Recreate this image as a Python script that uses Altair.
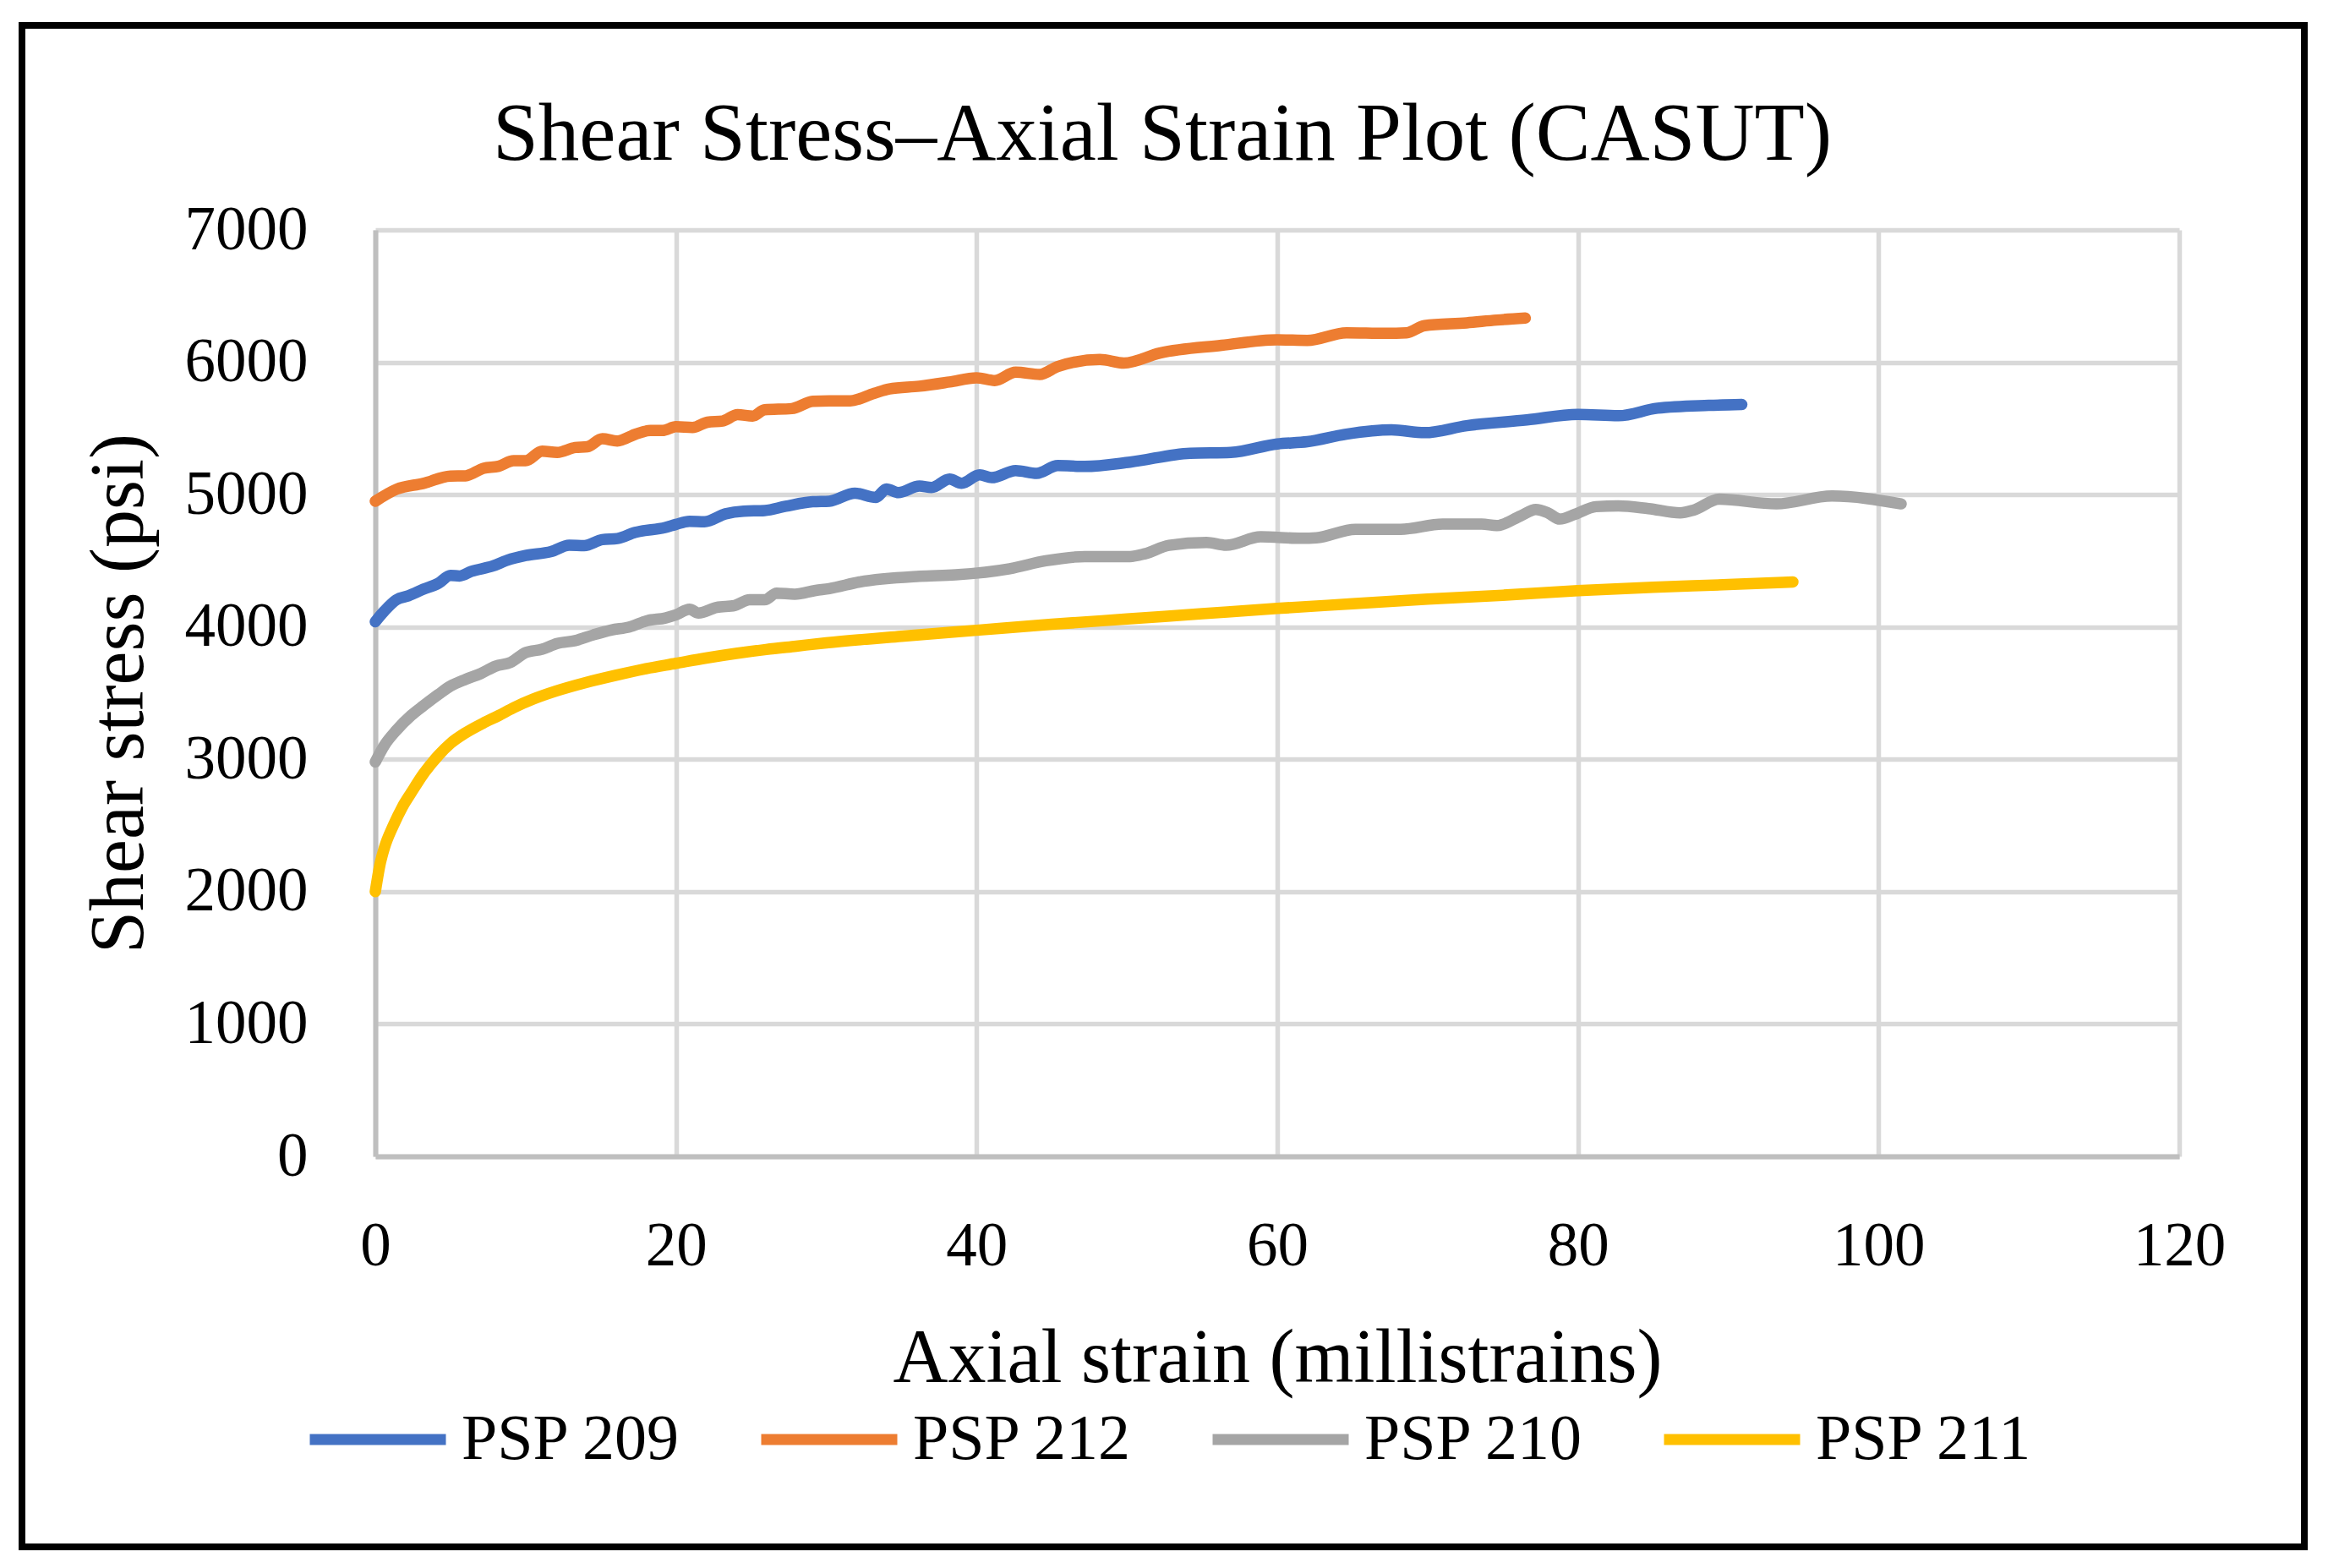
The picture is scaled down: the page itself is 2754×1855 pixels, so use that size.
import altair as alt
import pandas as pd

series_names = ["PSP 209", "PSP 212", "PSP 210", "PSP 211"]
series_colors = ["#4472C4", "#ED7D31", "#A5A5A5", "#FFC000"]

x_ticks = [0, 20, 40, 60, 80, 100, 120]
y_ticks = [0, 1000, 2000, 3000, 4000, 5000, 6000, 7000]

chart_title = ["Shear Stress\u2013Axial Strain Plot (CASUT)"]

psp209_x = [0, 0.6, 1.4, 2.2, 3.2, 4.2, 5.0, 5.6, 6.4, 7.8, 8.8, 10.0, 11.7, 12.9, 13.9,
            15.1, 16.1, 17.3, 19.3, 20.0, 20.9, 21.9, 23.3, 24.5, 25.9, 27.3, 29.1, 30.2,
            31.9, 33.3, 34.0, 34.8, 36.2, 37.0, 38.2, 39.0, 40.2, 41.0, 42.6, 44.0, 45.4,
            47.2, 50.2, 54.2, 56.9, 60.0, 62.0, 64.6, 67.6, 69.8, 72.6, 76.6, 80.0, 82.7,
            85.3, 88.7, 90.9]
psp209_y = [4040, 4120, 4205, 4235, 4285, 4330, 4390, 4385, 4420, 4460, 4505, 4540, 4570, 4618, 4615,
            4660, 4668, 4715, 4752, 4775, 4798, 4795, 4855, 4875, 4880, 4912, 4946, 4950,
            5011, 4979, 5043, 5015, 5064, 5053, 5117, 5085, 5149, 5128, 5181, 5160, 5219,
            5213, 5245, 5313, 5319, 5383, 5400, 5457, 5489, 5468, 5521, 5564, 5606, 5596,
            5653, 5674, 5681]

psp212_x = [0, 1.4, 3.2, 5.0, 6.0, 7.2, 8.2, 9.2, 10.0, 11.1, 12.1, 13.3, 14.1, 15.1, 16.1,
            17.3, 18.3, 19.1, 20.0, 21.1, 22.1, 23.1, 24.1, 25.1, 25.9, 27.7, 29.1, 30.2,
            31.6, 33.2, 34.2, 36.2, 38.2, 40.0, 41.2, 42.6, 44.2, 45.4, 48.2, 49.8, 52.2,
            56.3, 60.0, 62.0, 64.6, 67.2, 68.6, 69.8, 72.6, 74.6, 76.5]
psp212_y = [4950, 5040, 5085, 5140, 5142, 5199, 5214, 5256, 5256, 5328, 5319, 5356, 5362, 5422, 5405,
            5456, 5484, 5484, 5513, 5507, 5547, 5556, 5604, 5593, 5641, 5650, 5705, 5709,
            5709, 5766, 5798, 5819, 5851, 5883, 5862, 5925, 5908, 5968, 6021, 5994, 6070,
            6128, 6170, 6165, 6223, 6219, 6223, 6277, 6298, 6319, 6334]

psp210_x = [0, 0.6, 1.4, 2.4, 3.2, 4.2, 5.0, 6.0, 7.0, 8.0, 9.0, 10.0, 11.1, 12.1, 13.3,
            14.5, 15.7, 16.9, 18.1, 19.3, 20.0, 20.9, 21.5, 22.7, 23.9, 24.9, 25.9, 26.7,
            27.9, 29.3, 30.2, 32.2, 36.2, 38.6, 42.2, 44.6, 47.2, 50.2, 51.2, 52.8, 55.3,
            56.6, 58.9, 61.6, 62.6, 65.2, 68.2, 71.0, 73.6, 74.6, 76.2, 77.2, 78.0, 78.8,
            79.8, 81.2, 82.7, 84.7, 86.8, 87.7, 89.4, 93.2, 96.9, 101.5]
psp210_y = [2980, 3105, 3219, 3333, 3405, 3490, 3553, 3604, 3647, 3704, 3732, 3806, 3832, 3875, 3897,
            3940, 3977, 4000, 4048, 4068, 4091, 4134, 4105, 4148, 4162, 4205, 4205, 4256,
            4248, 4276, 4290, 4340, 4383, 4394, 4440, 4500, 4532, 4532, 4553, 4617, 4638,
            4617, 4681, 4670, 4674, 4738, 4738, 4777, 4777, 4766, 4840, 4887, 4862, 4815,
            4851, 4909, 4915, 4894, 4862, 4883, 4965, 4930, 4989, 4930]

psp211_x = [0, 0.3, 0.6, 1.2, 1.8, 2.4, 3.2, 4.2, 5.0, 6.0, 7.2, 8.2, 9.2, 10.5, 12.0,
            14.0, 16.0, 18.0, 20.0, 22.0, 24.0, 26.0, 28.0, 30.0, 35.0, 40.0, 45.0, 50.0,
            55.0, 60.0, 65.0, 70.0, 75.0, 80.0, 85.0, 90.0, 94.3]
psp211_y = [2000, 2200, 2330, 2500, 2640, 2750, 2890, 3030, 3120, 3200, 3275, 3330, 3390, 3455, 3515,
            3580, 3635, 3685, 3725, 3765, 3800, 3830, 3855, 3880, 3930, 3975, 4020, 4060,
            4100, 4140, 4175, 4210, 4240, 4275, 4300, 4320, 4340]

rows = []
for name, xs, ys in [("PSP 209", psp209_x, psp209_y), ("PSP 212", psp212_x, psp212_y),
                     ("PSP 210", psp210_x, psp210_y), ("PSP 211", psp211_x, psp211_y)]:
    for xv, yv in zip(xs, ys):
        rows.append({"series": name, "strain": xv, "stress": yv})
df = pd.DataFrame(rows)

FONT = "Liberation Serif"

lines = alt.Chart(df).mark_line(
    strokeWidth=13.5, strokeCap="round", strokeJoin="round", interpolate="monotone"
).encode(
    x=alt.X("strain:Q", scale=alt.Scale(domain=[0, 120], nice=False),
            axis=alt.Axis(values=x_ticks, title="Axial strain (millistrains)", labelFlush=False,
                          labelPadding=70, titlePadding=52, format="d")),
    y=alt.Y("stress:Q", scale=alt.Scale(domain=[0, 7000], nice=False),
            axis=alt.Axis(values=y_ticks, title="Shear stress (psi)", labelPadding=80,
                          titlePadding=57, format="d")),
    color=alt.Color("series:N", scale=alt.Scale(domain=series_names, range=series_colors),
                    legend=alt.Legend(title=None, orient="none", legendX=-84, legendY=1344,
                                      direction="horizontal", columns=4, symbolType="stroke",
                                      symbolSize=25921, symbolStrokeWidth=13,
                                      labelFont=FONT, labelFontSize=76, labelColor="black",
                                      labelLimit=1000, labelOffset=12, columnPadding=68,
                                      padding=0)),
)

frame = alt.Chart(pd.DataFrame({"k": [0]})).mark_rect(
    fillOpacity=0, stroke="black", strokeWidth=8
).encode(x=alt.value(-418), x2=alt.value(2282), y=alt.value(-242), y2=alt.value(1558))

title_mark = alt.Chart(pd.DataFrame({"t": chart_title})).mark_text(
    font=FONT, fontSize=97, color="black", align="center", baseline="alphabetic"
).encode(text="t:N", x=alt.value(931), y=alt.value(-83))

chart = alt.layer(frame, lines, title_mark).properties(
    width=2134, height=1096,
    autosize=alt.AutoSizeParams(type="none"),
    padding={"left": 436, "top": 264, "right": 168, "bottom": 479},
).configure_view(strokeWidth=0).configure_axis(
    ticks=False, labelFont=FONT, labelFontSize=73, labelColor="black",
    titleFont=FONT, titleFontSize=90, titleFontWeight="normal", titleColor="black",
    domainColor="#bfbfbf", domainWidth=6, gridColor="#d9d9d9", gridWidth=5.5,
)

chart.save("out.html", embed_options={"renderer": "svg", "actions": False})
